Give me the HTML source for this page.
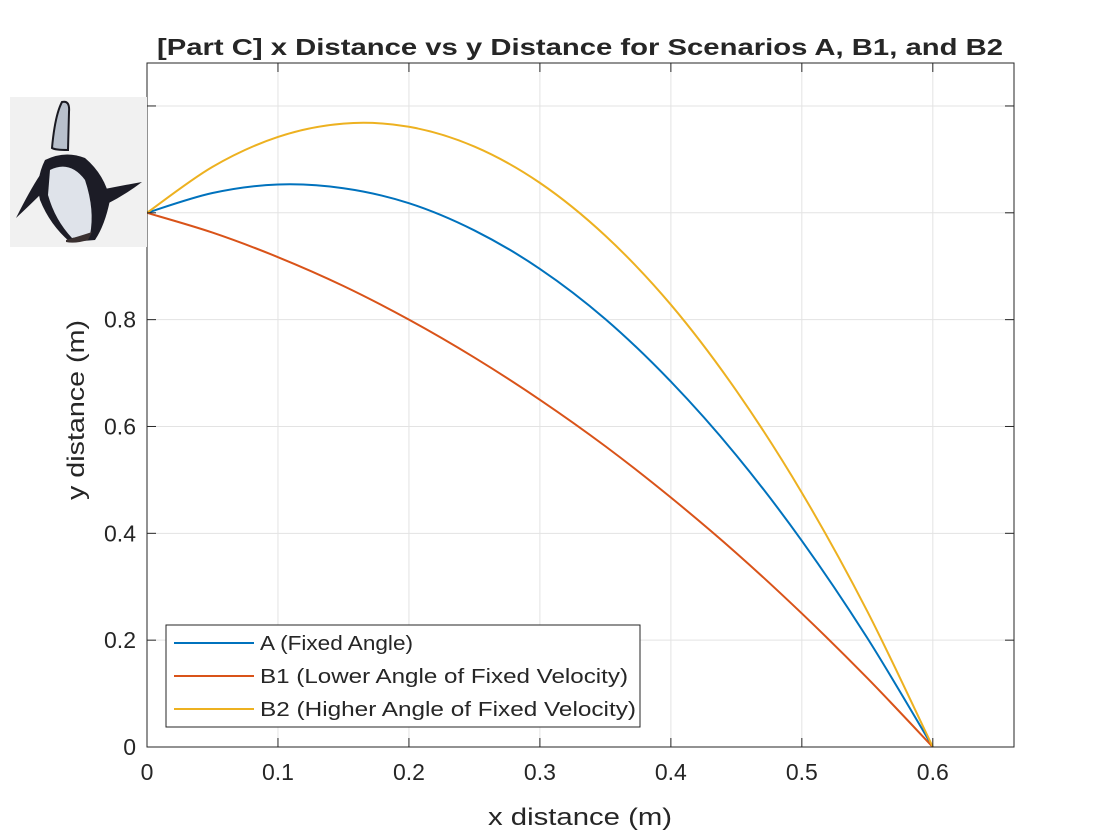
<!DOCTYPE html>
<html><head><meta charset="utf-8"><style>
html,body{margin:0;padding:0;background:#fff;width:1120px;height:840px;overflow:hidden}
svg text{font-family:"Liberation Sans",Arial,sans-serif;fill:#262626}
</style></head><body>
<svg id="chart" width="1120" height="840" xmlns="http://www.w3.org/2000/svg">
<rect width="1120" height="840" fill="#fff"/>
<text x="157" y="55" font-size="23" font-weight="bold" fill="#000" textLength="846" lengthAdjust="spacingAndGlyphs">[Part C] x Distance vs y Distance for Scenarios A, B1, and B2</text>
<g id="grid"></g>
<g id="series"></g>
<rect x="147" y="63" width="867" height="684" fill="none" stroke="#262626" stroke-width="1"/>
<g id="ticks"></g>
<text x="488" y="825" font-size="24" textLength="184" lengthAdjust="spacingAndGlyphs">x distance (m)</text>
<text transform="translate(84,500) rotate(-90)" font-size="24" textLength="180" lengthAdjust="spacingAndGlyphs">y distance (m)</text>
<g>
<rect x="10" y="97" width="137" height="150" fill="#f1f1f1"/>
<path d="M62,102 Q70,100 69,112 L68,150 Q55,150 52,148 Q55,115 62,102Z" fill="#b8c0cc" stroke="#1a1a22" stroke-width="2"/>
<path d="M45,160 Q65,150 85,158 Q105,175 110,200 Q105,225 95,240 L70,242 Q50,225 40,200 Q35,180 45,160Z" fill="#1c1c26"/>
<path d="M50,170 Q70,160 85,180 Q95,210 90,235 L72,238 Q55,220 48,195Z" fill="#dfe3ea"/>
<path d="M40,175 Q30,190 16,218 Q30,205 45,190Z" fill="#1c1c26"/>
<path d="M100,190 Q125,185 142,182 Q125,195 105,205Z" fill="#1c1c26"/>
<path d="M66,240 Q80,236 92,232 L88,240 Q75,244 66,242Z" fill="#3a3030"/>
</g>
<g>
<rect x="166" y="625" width="474" height="102" fill="#fff" stroke="#262626" stroke-width="1"/>
<g id="legend-items"></g>
</g>
</svg>
<script>
const xVals=[0,0.05,0.1,0.15,0.2,0.25,0.3,0.35,0.4,0.45,0.5,0.55,0.6];
const seriesA=[1.000,1.037,1.053,1.046,1.018,0.967,0.895,0.801,0.684,0.546,0.386,0.204,0];
const seriesB1=[1.000,0.963,0.917,0.863,0.800,0.729,0.650,0.563,0.467,0.363,0.250,0.129,0];
const seriesB2=[1.000,1.086,1.142,1.167,1.161,1.124,1.056,0.957,0.828,0.667,0.476,0.254,0];
const xTicks=[0,0.1,0.2,0.3,0.4,0.5,0.6];
const xTickLabels=["0","0.1","0.2","0.3","0.4","0.5","0.6"];
const yTicks=[0,0.2,0.4,0.6,0.8,1.0,1.2];
const yTickLabels=["0","0.2","0.4","0.6","0.8","1","1.2"];
const legendLabels=["A (Fixed Angle)","B1 (Lower Angle of Fixed Velocity)","B2 (Higher Angle of Fixed Velocity)"];
const legendWidths=[153,368,376];
const colors=["#0072bd","#d95319","#edb120"];
const X0=147,X1=1014,XMAX=0.662,Y0=747,YT=63,PXPERY=534.2;
function sx(v){return X0+v/XMAX*(X1-X0);}
function sy(v){return Y0-v*PXPERY;}
const NS="http://www.w3.org/2000/svg";
function mk(t,a,p){const e=document.createElementNS(NS,t);for(const k in a)e.setAttribute(k,a[k]);p.appendChild(e);return e;}
const grid=document.getElementById('grid'),ticks=document.getElementById('ticks');
xTicks.forEach((v,i)=>{const x=sx(v);
 const g=mk('line',{x1:x,x2:x,y1:YT,y2:Y0,stroke:'#e3e3e3','stroke-width':1},grid);
 
 const t1=mk('line',{x1:x,x2:x,y1:Y0,y2:Y0-9,stroke:'#262626'},ticks);
 
 const t2=mk('line',{x1:x,x2:x,y1:YT,y2:YT+9,stroke:'#262626'},ticks);
 
 const l=mk('text',{x:x,y:Y0+33,'text-anchor':'middle','font-size':23},ticks);l.textContent=xTickLabels[i];
 });
yTicks.forEach((v,i)=>{const y=sy(v);
 const g=mk('line',{x1:X0,x2:X1,y1:y,y2:y,stroke:'#e3e3e3','stroke-width':1},grid);
 
 const t1=mk('line',{x1:X0,x2:X0+9,y1:y,y2:y,stroke:'#262626'},ticks);
 
 const t2=mk('line',{x1:X1,x2:X1-9,y1:y,y2:y,stroke:'#262626'},ticks);
 
 const l=mk('text',{x:X0-11,y:y+8,'text-anchor':'end','font-size':23},ticks);l.textContent=yTickLabels[i];
 });
function smoothPath(xs,ys){const P=xs.map((x,i)=>[sx(x),sy(ys[i])]);let d='M'+P[0][0]+','+P[0][1];
 for(let i=0;i<P.length-1;i++){const p0=P[Math.max(i-1,0)],p1=P[i],p2=P[i+1],p3=P[Math.min(i+2,P.length-1)];
  const c1=[p1[0]+(p2[0]-p0[0])/6,p1[1]+(p2[1]-p0[1])/6],c2=[p2[0]-(p3[0]-p1[0])/6,p2[1]-(p3[1]-p1[1])/6];
  d+=' C'+c1+' '+c2+' '+p2;}return d;}
const ser=document.getElementById('series');
const allSeries=[seriesA,seriesB1,seriesB2];const names=['series-a-line','series-b1-line','series-b2-line'];
allSeries.forEach((s,i)=>{const p=mk('path',{d:smoothPath(xVals,s),fill:'none',stroke:colors[i],'stroke-width':2},ser);
 });
const li=document.getElementById('legend-items');
legendLabels.forEach((t,i)=>{const y=643+i*33;
 const l=mk('line',{x1:174,x2:254,y1:y,y2:y,stroke:colors[i],'stroke-width':2},li);
 
 const tx=mk('text',{x:260,y:y+7,'font-size':20,fill:'#000',textLength:legendWidths[i],lengthAdjust:'spacingAndGlyphs'},li);tx.textContent=t;
 });
</script>
</body></html>
